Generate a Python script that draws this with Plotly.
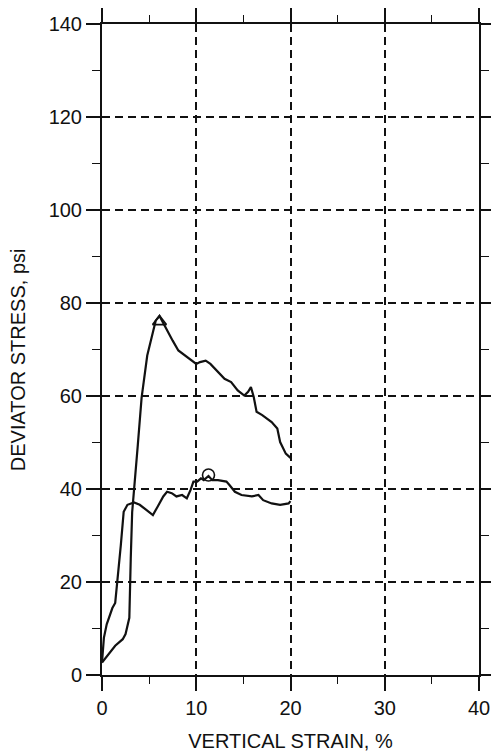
import plotly.graph_objects as go

# Deviator stress vs. vertical strain for two triaxial specimens
strain_upper = [0, 0.7, 1.4, 2.2, 2.5, 2.9, 2.95, 3.05, 3.2, 3.4, 3.8, 4.2, 4.5, 4.8,
                5.4, 5.7, 6.1, 6.8, 7.5, 8.1, 9.0, 10.0, 10.4, 11.0, 11.5, 12.4, 13.0,
                13.7, 14.4, 15.1, 15.5, 15.8, 16.1, 16.4, 17.0, 18.0, 18.6, 18.9, 19.5, 20.0]
stress_upper = [2.7, 4.5, 6.3, 7.7, 8.8, 12.3, 18.0, 25.0, 35.0, 39.4, 49.5, 59.6, 64.4, 68.7,
                73.7, 76.2, 77.2, 74.4, 71.9, 69.8, 68.4, 66.9, 67.3, 67.6, 66.9, 65.1, 63.7,
                63.0, 61.2, 60.1, 60.9, 61.9, 59.8, 56.6, 55.9, 54.4, 53.0, 50.1, 47.6, 46.7]

strain_lower = [0, 0.2, 0.5, 1.1, 1.4, 1.6, 2.0, 2.3, 2.7, 3.4, 4.0, 4.7, 5.4, 5.9, 6.5,
                6.9, 7.4, 7.9, 8.5, 9.0, 9.4, 9.7, 10.1, 10.5, 10.8, 11.3, 11.7, 12.3,
                13.2, 13.5, 14.1, 14.8, 15.9, 16.6, 17.1, 18.0, 18.9, 19.8, 20.0]
stress_lower = [2.7, 8.0, 10.9, 14.4, 15.5, 19.4, 28.0, 35.1, 36.6, 37.1, 36.6, 35.5, 34.4, 36.2, 38.4,
                39.4, 39.1, 38.4, 38.7, 38.0, 39.8, 41.6, 41.6, 42.3, 41.9, 42.8, 41.9, 41.9,
                41.6, 40.9, 39.4, 38.7, 38.4, 38.7, 37.6, 36.9, 36.6, 36.9, 37.4]

# Peak (failure) points
peak_upper = ([6.1], [76.0])
peak_lower = ([11.3], [43.0])

x_ticks = [0, 10, 20, 30, 40]
y_ticks = [0, 20, 40, 60, 80, 100, 120, 140]

FONT = "Liberation Sans, Arial, Helvetica, sans-serif"
INK = "#111111"

fig = go.Figure()
fig.add_trace(go.Scatter(x=strain_upper, y=stress_upper, mode="lines",
                         line=dict(color=INK, width=2.2), showlegend=False))
fig.add_trace(go.Scatter(x=strain_lower, y=stress_lower, mode="lines",
                         line=dict(color=INK, width=2.2), showlegend=False))
fig.add_trace(go.Scatter(x=peak_upper[0], y=peak_upper[1], mode="markers",
                         marker=dict(symbol="triangle-up-open", size=12, color=INK,
                                     line=dict(width=1.6, color=INK)),
                         showlegend=False))
fig.add_trace(go.Scatter(x=peak_lower[0], y=peak_lower[1], mode="markers",
                         marker=dict(symbol="circle-open", size=12, color=INK,
                                     line=dict(width=1.6, color=INK)),
                         showlegend=False))

axis_common = dict(
    showline=True, linecolor=INK, linewidth=2, mirror="allticks",
    ticks="outside", ticklen=14, tickwidth=1.6, tickcolor=INK,
    showgrid=True, gridcolor=INK, gridwidth=1.6, griddash="8px,5px",
    zeroline=False, automargin=False,
    tickfont=dict(family=FONT, size=20, color=INK),
)

fig.update_xaxes(
    range=[0, 40], tickvals=x_ticks, ticktext=[str(v) for v in x_ticks],
    minor=dict(dtick=5, tick0=0, ticks="outside", ticklen=7, tickwidth=1.4,
               tickcolor=INK, showgrid=False),
    title=dict(text="VERTICAL STRAIN, %", font=dict(family=FONT, size=20, color=INK),
               standoff=16),
    **axis_common,
)
fig.update_yaxes(
    range=[0, 140], tickvals=y_ticks, ticktext=[str(v) for v in y_ticks],
    minor=dict(dtick=10, tick0=0, ticks="outside", ticklen=8, tickwidth=1.4,
               tickcolor=INK, showgrid=False),
    **axis_common,
)

# Y-axis title, set slightly below the axis midpoint
fig.add_annotation(
    text="DEVIATOR STRESS, psi", textangle=-90,
    xref="paper", yref="paper", x=-0.223, y=0.485,
    xanchor="center", yanchor="middle", showarrow=False,
    font=dict(family=FONT, size=20, color=INK),
)

fig.update_layout(
    width=491, height=753,
    margin=dict(l=102, r=12, t=24, b=78),
    paper_bgcolor="white", plot_bgcolor="white",
    font=dict(family=FONT, color=INK),
)

fig.write_html("out.html")
